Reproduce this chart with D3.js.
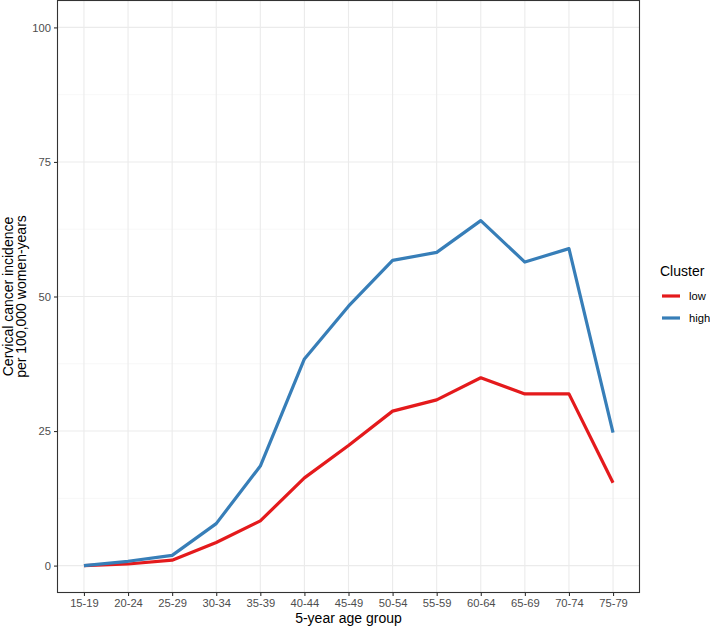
<!DOCTYPE html>
<html>
<head>
<meta charset="utf-8">
<script src="https://cdn.jsdelivr.net/npm/d3@7"></script>
<style>
  body { margin: 0; background: #fff; }
  svg { font-family: "Liberation Sans", Arial, sans-serif; }
</style>
</head>
<body>
<svg id="chart"></svg>
<script>
var ageGroups = ["15-19","20-24","25-29","30-34","35-39","40-44","45-49","50-54","55-59","60-64","65-69","70-74","75-79"];
var lowValues = [0, 0.3, 1.0, 4.3, 8.3, 16.3, 22.3, 28.7, 30.8, 34.9, 31.9, 31.9, 15.4];
var highValues = [0, 0.8, 1.9, 7.8, 18.5, 38.4, 48.2, 56.7, 58.2, 64.1, 56.4, 58.9, 24.7];
var yTicks = [0, 25, 50, 75, 100];
var clusterNames = ["low", "high"];
var clusterColors = ["#E41A1C", "#377EB8"];

var width = 710, height = 627;
var panel = {left: 57.5, top: 0.5, right: 639.5, bottom: 592.5};

var svg = d3.select("#chart")
    .attr("width", width)
    .attr("height", height);

var x = d3.scalePoint()
    .domain(ageGroups)
    .range([panel.left, panel.right])
    .padding(0.6);

var y = d3.scaleLinear()
    .domain([-5, 105])
    .range([panel.bottom, panel.top]);

// panel background + grid
svg.append("rect")
    .attr("x", panel.left).attr("y", panel.top)
    .attr("width", panel.right - panel.left)
    .attr("height", panel.bottom - panel.top)
    .attr("fill", "#fff");

var minorY = [12.5, 37.5, 62.5, 87.5];
svg.selectAll(".minor")
    .data(minorY)
    .enter().append("line")
    .attr("x1", panel.left).attr("x2", panel.right)
    .attr("y1", function(d){return y(d)})
    .attr("y2", function(d){return y(d)})
    .attr("stroke", "#F2F2F2")
    .attr("stroke-width", 0.6);

svg.selectAll(".majorY")
    .data(yTicks)
    .enter().append("line")
    .attr("x1", panel.left).attr("x2", panel.right)
    .attr("y1", function(d){return y(d)})
    .attr("y2", function(d){return y(d)})
    .attr("stroke", "#EBEBEB")
    .attr("stroke-width", 1.1);

svg.selectAll(".majorX")
    .data(ageGroups)
    .enter().append("line")
    .attr("y1", panel.top).attr("y2", panel.bottom)
    .attr("x1", function(d){return x(d)})
    .attr("x2", function(d){return x(d)})
    .attr("stroke", "#EBEBEB")
    .attr("stroke-width", 1.1);

// lines
var series = [lowValues, highValues];
var line = d3.line()
    .x(function(d, i){return x(ageGroups[i])})
    .y(function(d){return y(d)});

svg.selectAll(".series")
    .data(series)
    .enter().append("path")
    .attr("d", line)
    .attr("fill", "none")
    .attr("stroke", function(d, i){return clusterColors[i]})
    .attr("stroke-width", 3.2)
    .attr("stroke-linejoin", "round");

// panel border
svg.append("rect")
    .attr("x", panel.left).attr("y", panel.top)
    .attr("width", panel.right - panel.left)
    .attr("height", panel.bottom - panel.top)
    .attr("fill", "none")
    .attr("stroke", "#333333")
    .attr("stroke-width", 1.1);

// axes
var xAxis = svg.append("g")
    .attr("transform", "translate(0," + panel.bottom + ")")
    .call(d3.axisBottom(x).tickSizeOuter(0).tickSize(3.5).tickPadding(3));
var yAxis = svg.append("g")
    .attr("transform", "translate(" + panel.left + ",0)")
    .call(d3.axisLeft(y).tickValues(yTicks).tickSizeOuter(0).tickSize(3.5).tickPadding(3));

[xAxis, yAxis].forEach(function(a){
    a.select(".domain").remove();
    a.selectAll(".tick line").attr("stroke", "#333333").attr("stroke-width", 1.1);
    a.selectAll(".tick text")
        .attr("fill", "#4D4D4D")
        .style("font-size", "11.2px")
        .style("font-family", "'Liberation Sans', Arial, sans-serif");
});

// axis titles
svg.append("text")
    .attr("x", (panel.left + panel.right) / 2)
    .attr("y", 623)
    .attr("text-anchor", "middle")
    .style("font-size", "14px")
    .text("5-year age group");

var yTitle = svg.append("text")
    .attr("transform", "translate(13," + (panel.top + panel.bottom) / 2 + ") rotate(-90)")
    .attr("text-anchor", "middle")
    .style("font-size", "14px");
yTitle.append("tspan").attr("x", 0).attr("dy", 0).text("Cervical cancer incidence");
yTitle.append("tspan").attr("x", 0).attr("dy", 12.6).text("per 100,000 women-years");

// legend
var legend = svg.append("g").attr("transform", "translate(660,0)");
legend.append("text")
    .attr("x", 0).attr("y", 276)
    .style("font-size", "14px")
    .text("Cluster");

var keys = legend.selectAll(".key")
    .data(clusterNames)
    .enter().append("g")
    .attr("transform", function(d, i){return "translate(0," + (296 + i * 22) + ")"});
keys.append("line")
    .attr("x1", 2).attr("x2", 20)
    .attr("y1", 0).attr("y2", 0)
    .attr("stroke", function(d, i){return clusterColors[i]})
    .attr("stroke-width", 3.2);
keys.append("text")
    .attr("x", 29).attr("y", 4)
    .style("font-size", "11.2px")
    .attr("fill", "#000")
    .text(function(d){return d});
</script>
</body>
</html>
